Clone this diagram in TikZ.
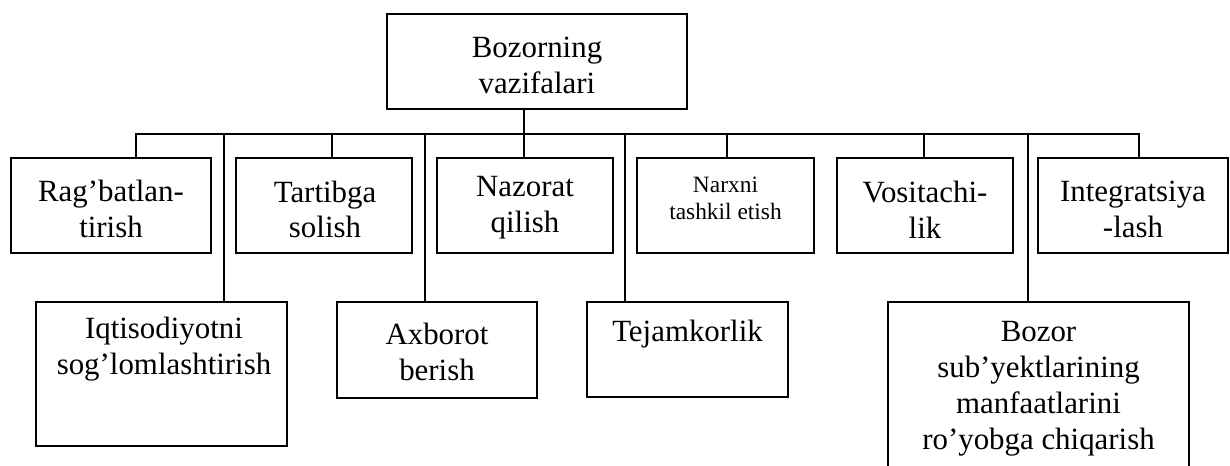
\documentclass[tikz,border=0pt]{standalone}
\usepackage{fontspec}
\setmainfont{Liberation Serif}
\begin{document}
\begin{tikzpicture}[x=1bp,y=-1bp]
\tikzset{
 frame/.style={draw, line width=1.7bp, inner sep=0pt},
 lbl/.style={inner sep=0pt, align=center, font=\fontsize{31}{36}\selectfont},
 lblsmall/.style={inner sep=0pt, align=center, font=\fontsize{23.5}{27}\selectfont},
 wire/.style={line width=1.6bp}
}
\useasboundingbox (0,0) rectangle (1230,466);
\clip (0,0) rectangle (1230,466);

% top box
\node[frame, minimum width=300bp, minimum height=95bp] (top) at (537,61.5) {};
\node[lbl] (topt) at (537,65) {Bozorning\\vazifalari};

% first row
\node[frame, minimum width=200bp, minimum height=95bp] (r1) at (111,205.5) {};
\node[frame, minimum width=176bp, minimum height=95bp] (r2) at (324,205.5) {};
\node[frame, minimum width=176bp, minimum height=95bp] (r3) at (525,205.5) {};
\node[frame, minimum width=177bp, minimum height=95bp] (r4) at (725.5,205.5) {};
\node[frame, minimum width=176bp, minimum height=95bp] (r5) at (925,205.5) {};
\node[frame, minimum width=190bp, minimum height=95bp] (r6) at (1133,205.5) {};
\node[lbl] (r1t) at (111,209) {Rag’batlan-\\tirish};
\node[lbl] (r2t) at (325,209.5) {Tartibga\\solish};
\node[lbl] (r3t) at (525,207.5) {Nazorat\\qilish};
\node[lblsmall] (r4t) at (725.5,198.5) {Narxni\\tashkil etish};
\node[lbl] (r5t) at (925,210) {Vositachi-\\lik};
\node[lbl] (r6t) at (1133,209) {Integratsiya\\-lash};

% second row
\node[frame, minimum width=251bp, minimum height=144bp] (c1) at (161.5,374) {};
\node[frame, minimum width=200bp, minimum height=96bp] (c2) at (437,350) {};
\node[frame, minimum width=201bp, minimum height=95bp] (c3) at (687.5,349.5) {};
\node[frame, minimum width=301bp, minimum height=188bp] (c4) at (1038.5,396) {};
\node[lbl] (c1t) at (164,349.5) {Iqtisodiyotni\\sog’lomlashtirish};
\node[lbl] (c2t) at (437,352) {Axborot\\berish};
\node[lbl] (c3t) at (687.5,334) {Tejamkorlik};
\node[lbl] (c4t) at (1038.5,389) {Bozor\\sub’yektlarining\\manfaatlarini\\ro’yobga chiqarish};

% bus coordinates
\coordinate (bl) at (136,134);
\coordinate (br) at (1139,134);
\coordinate (m)  at (524,134);
\coordinate (j2) at (332,134);
\coordinate (j4) at (727,134);
\coordinate (j5) at (924,134);
\coordinate (k1) at (224,134);
\coordinate (k2) at (425,134);
\coordinate (k3) at (625,134);
\coordinate (k4) at (1028,134);

% connectors
\draw[wire] (r1.north -| bl) -- (bl) -- (br) -- (r6.north -| br);
\draw[wire] (top.south -| m) -- (r3.north -| m);
\draw[wire] (j2) -- (r2.north -| j2);
\draw[wire] (j4) -- (r4.north -| j4);
\draw[wire] (j5) -- (r5.north -| j5);
\draw[wire] (k1) -- (c1.north -| k1);
\draw[wire] (k2) -- (c2.north -| k2);
\draw[wire] (k3) -- (c3.north -| k3);
\draw[wire] (k4) -- (c4.north -| k4);
\end{tikzpicture}
\end{document}
